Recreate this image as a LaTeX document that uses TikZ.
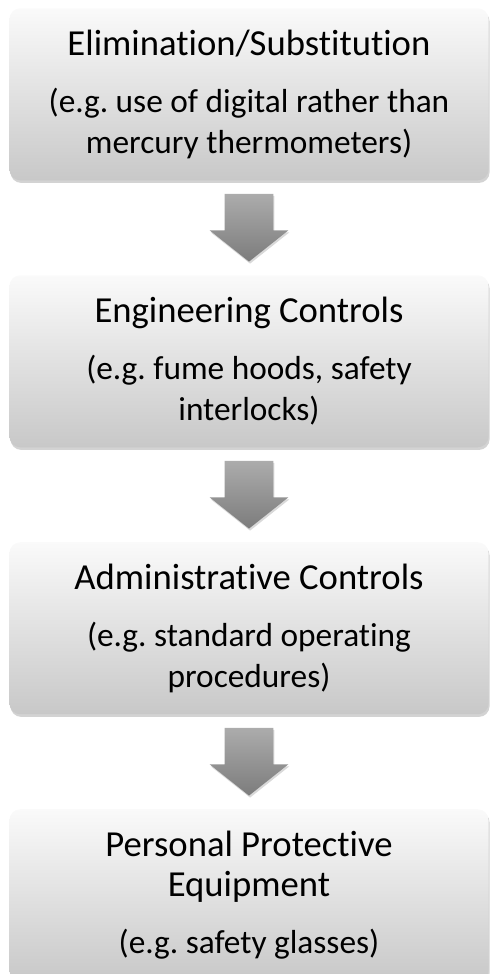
\documentclass[tikz,border=0pt]{standalone}
\usepackage{fontspec}
\setmainfont{Carlito}[Ligatures=NoCommon]
\usepackage{tikz}
\usetikzlibrary{positioning,shapes.arrows,shadows}
\definecolor{boxtop}{RGB}{250,250,250}
\definecolor{boxbottom}{RGB}{200,200,200}
\definecolor{arrowtop}{RGB}{172,172,172}
\definecolor{arrowbottom}{RGB}{124,124,124}
\newcommand\titlesize{\fontsize{27.5pt}{30.5pt}\selectfont}
\newcommand\bodysize{\fontsize{25pt}{30.5pt}\selectfont}
\frenchspacing
\hyphenpenalty=10000

\tikzset{
  level/.style={rectangle, rounded corners=8pt, minimum width=359.25pt, minimum height=129pt,
    text width=322.5pt, align=flush center, inner sep=0pt, top color=boxtop, bottom color=boxbottom,
    drop shadow={shadow xshift=0.8pt, shadow yshift=-2pt, opacity=0.35},
    font=\bodysize},
  arrowdown/.style={single arrow, shape border rotate=270, minimum height=48.75pt, minimum width=58.5pt,
    single arrow head extend=11.25pt, single arrow tip angle=103, inner sep=18pt,
    top color=arrowtop, bottom color=arrowbottom,
    drop shadow={shadow xshift=0.8pt, shadow yshift=-1.5pt, opacity=0.3}}
}

\begin{document}
\begin{tikzpicture}[node distance=9.75pt]
        \useasboundingbox (0,0) rectangle (367.5pt,-730.5pt);
        \node[level, anchor=north] (elim) at (186.75pt,-6pt) {{\titlesize Elimination/Substitution}\\[12.25pt](e.g. use of digital rather than mercury thermometers)};
        \node[arrowdown] (A) [below=of elim] {};
        \node[level] (eng) [below=of A] {{\titlesize Engineering Controls}\\[12.25pt](e.g. fume hoods, safety interlocks)};
        \node[arrowdown] (B) [below=of eng] {};
        \node[level] (admin) [below=of B] {{\titlesize Administrative Controls}\\[12.25pt](e.g. standard operating procedures)};
        \node[arrowdown] (C) [below=of admin] {};
        \node[level] (ppe) [below=of C] {{\titlesize Personal Protective Equipment}\\[12.25pt](e.g. safety glasses)};
  \end{tikzpicture}
\end{document}
